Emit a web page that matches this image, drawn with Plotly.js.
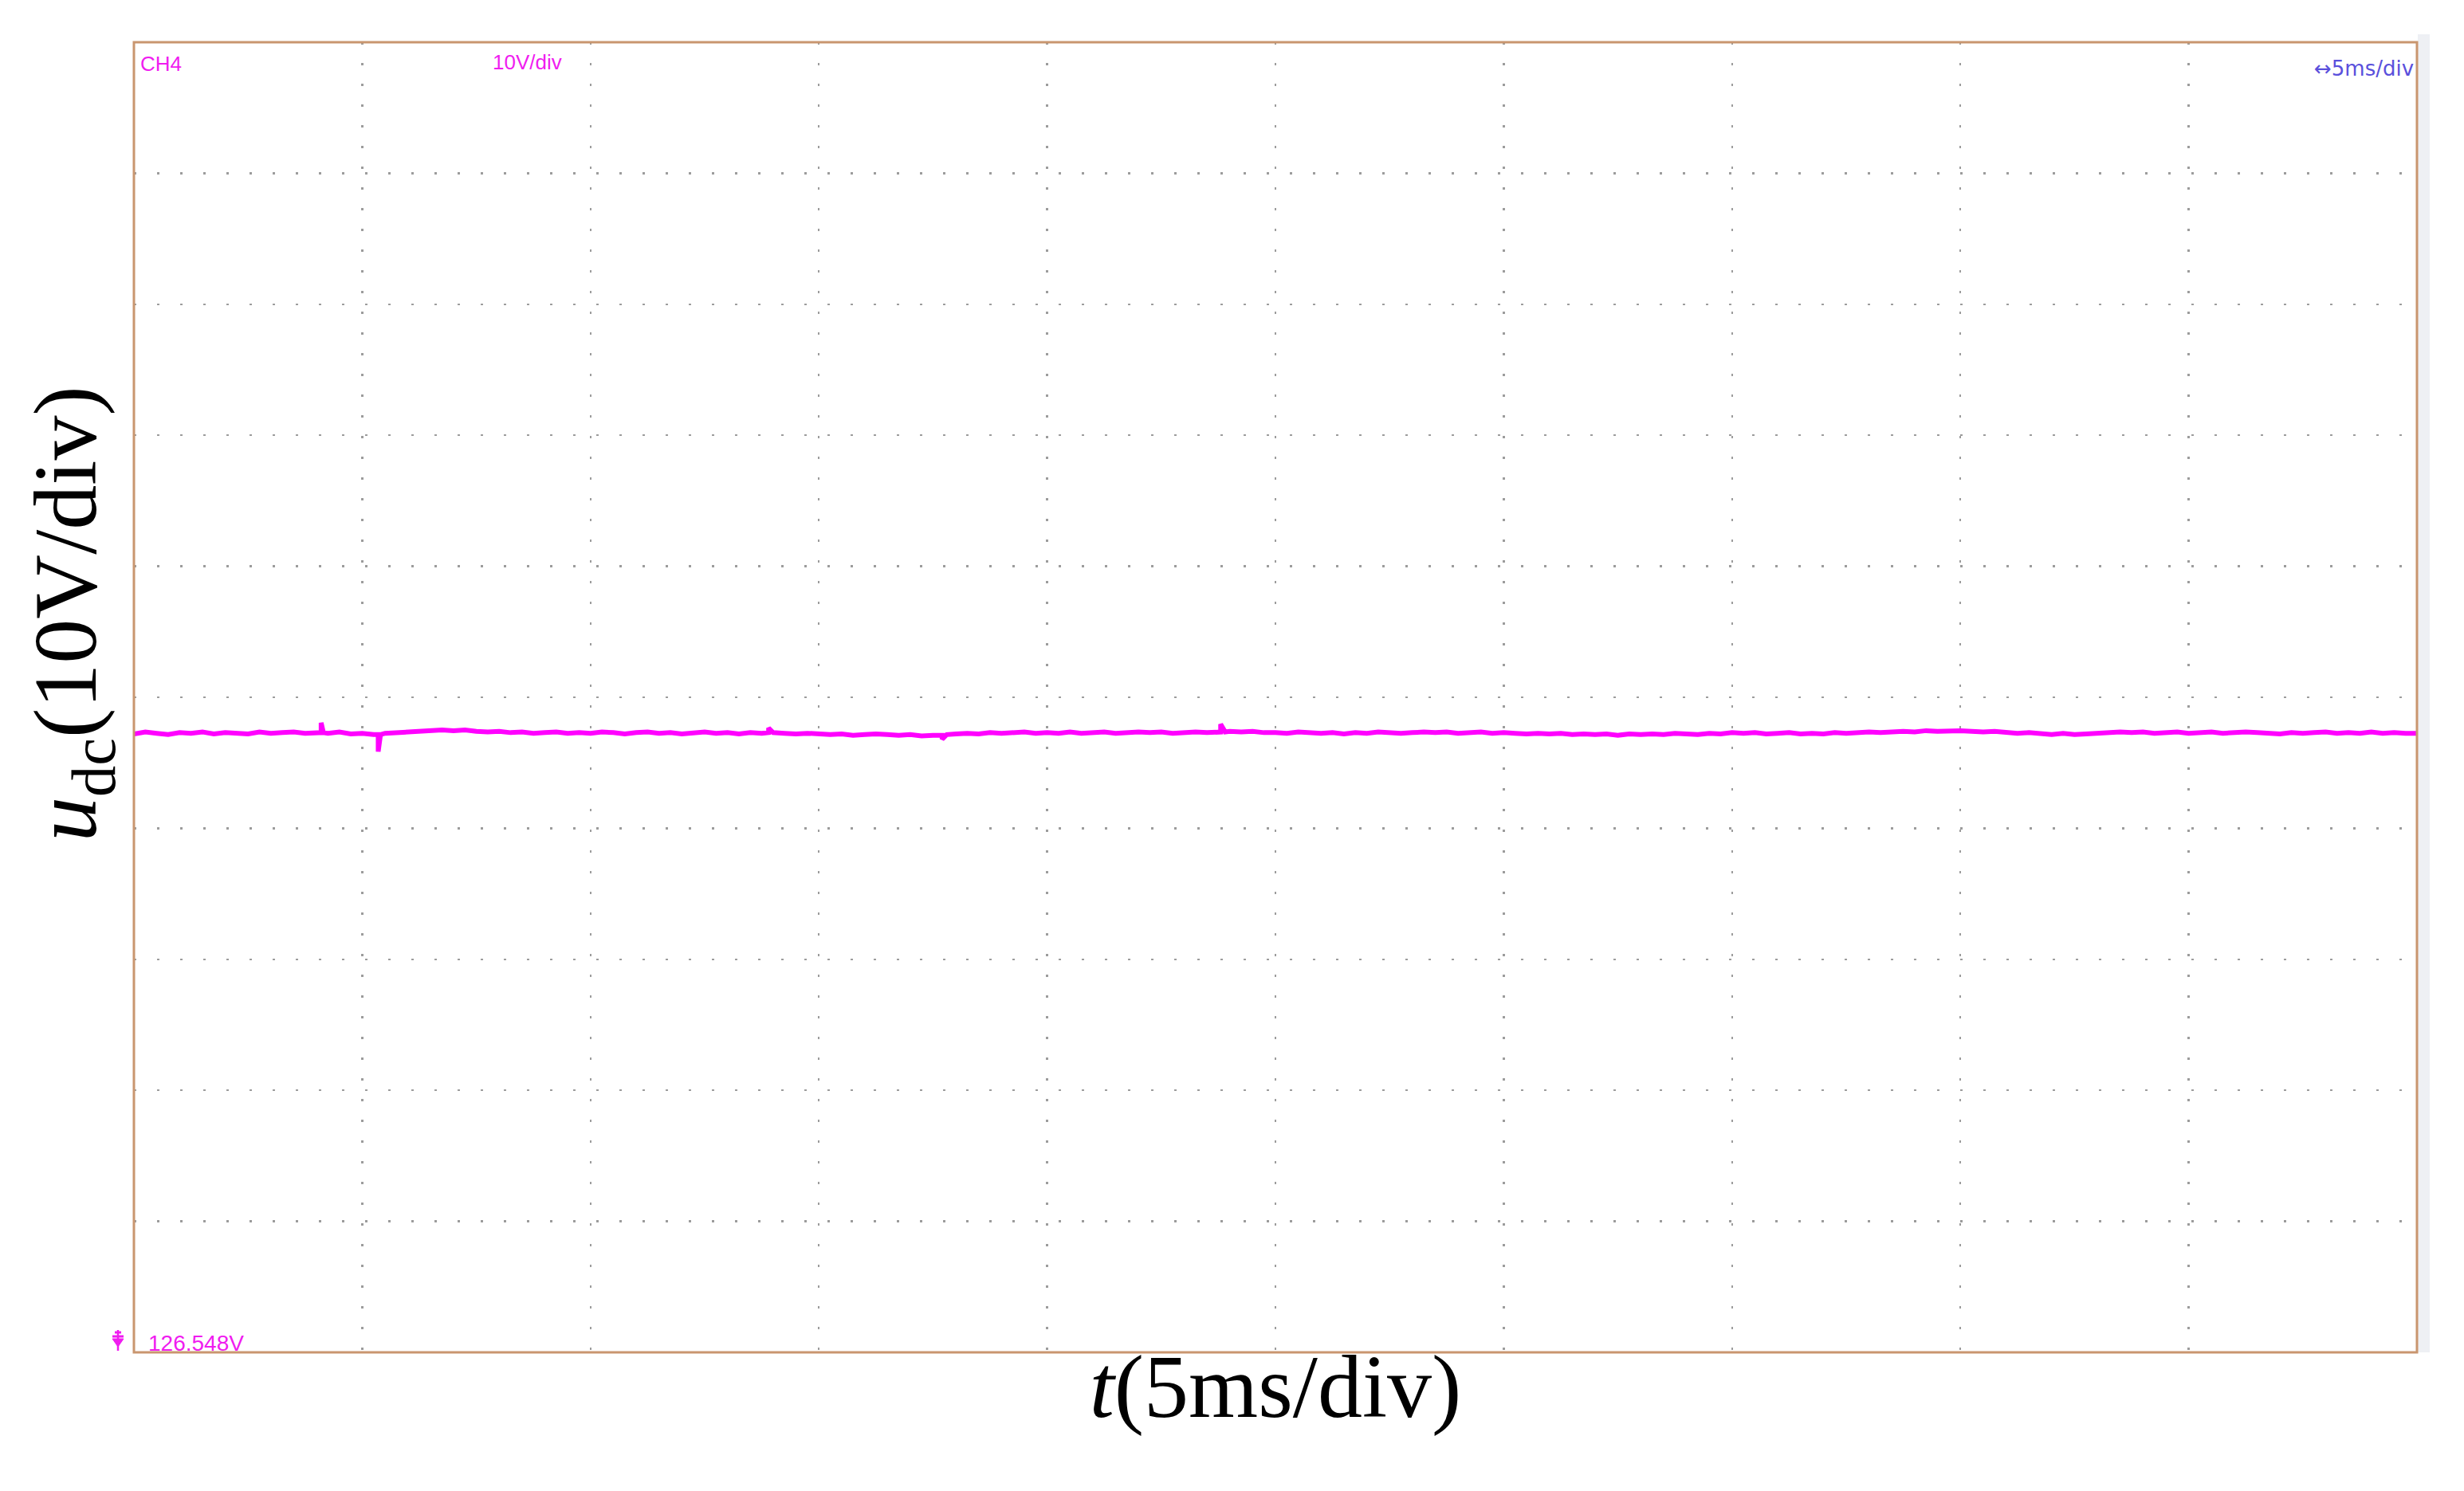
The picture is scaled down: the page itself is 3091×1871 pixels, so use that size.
<!DOCTYPE html>
<html><head><meta charset="utf-8">
<script src="https://cdn.plot.ly/plotly-3.0.1.min.js"></script>
<style>html,body{margin:0;padding:0;background:#fff;overflow:hidden}</style>
</head><body>
<div id="chart" style="width:3091px;height:1871px"></div>
<script>
// ---- data ----
const time_ms = [
 0,0.25,0.5,0.75,1,1.25,1.5,1.75,2,2.25,2.5,2.75,3,3.25,3.5,3.75,4,4.1,4.1,4.15,4.25,4.5,4.75,
 5,5.25,5.35,5.35,5.4,5.5,5.75,6,6.25,6.5,6.75,7,7.25,7.5,7.75,8,8.25,8.5,8.75,9,9.25,9.5,9.75,
 10,10.25,10.5,10.75,11,11.25,11.5,11.75,12,12.25,12.5,12.75,13,13.25,13.5,13.75,13.9,13.9,14,14.25,14.5,14.75,
 15,15.25,15.5,15.75,16,16.25,16.5,16.75,17,17.25,17.5,17.7,17.7,17.8,18,18.25,18.5,18.75,19,19.25,19.5,19.75,
 20,20.25,20.5,20.75,21,21.25,21.5,21.75,22,22.25,22.5,22.75,23,23.25,23.5,23.8,23.8,23.9,24,24.25,24.5,24.75,
 25,25.25,25.5,25.75,26,26.25,26.5,26.75,27,27.25,27.5,27.75,28,28.25,28.5,28.75,29,29.25,29.5,29.75,
 30,30.25,30.5,30.75,31,31.25,31.5,31.75,32,32.25,32.5,32.75,33,33.25,33.5,33.75,34,34.25,34.5,34.75,
 35,35.25,35.5,35.75,36,36.25,36.5,36.75,37,37.25,37.5,37.75,38,38.25,38.5,38.75,39,39.25,39.5,39.75,
 40,40.25,40.5,40.75,41,41.25,41.5,41.75,42,42.25,42.5,42.75,43,43.25,43.5,43.75,44,44.25,44.5,44.75,
 45,45.25,45.5,45.75,46,46.25,46.5,46.75,47,47.25,47.5,47.75,48,48.25,48.5,48.75,49,49.25,49.5,49.75,50];
const udc_V = [
 173.75,173.9,173.8,173.7,173.85,173.8,173.9,173.75,173.85,173.8,173.75,173.9,173.8,173.85,173.9,173.8,173.85,173.85,174.6,173.85,173.8,173.9,173.75,
 173.8,173.7,173.7,172.4,173.7,173.8,173.85,173.9,173.95,174.0,174.05,174.0,174.05,173.95,173.9,173.95,173.85,173.9,173.8,173.85,173.9,173.8,173.85,
 173.8,173.9,173.85,173.75,173.85,173.9,173.8,173.85,173.75,173.8,173.9,173.8,173.85,173.75,173.85,173.8,173.85,174.2,173.85,173.8,173.75,173.8,
 173.75,173.7,173.75,173.65,173.7,173.75,173.7,173.65,173.7,173.6,173.65,173.65,173.35,173.7,173.75,173.8,173.75,173.85,173.8,173.85,173.9,173.8,
 173.85,173.8,173.9,173.8,173.85,173.9,173.8,173.85,173.9,173.85,173.9,173.8,173.85,173.9,173.85,173.9,174.5,173.9,173.95,173.9,173.95,173.85,
 173.85,173.8,173.9,173.85,173.8,173.85,173.75,173.85,173.8,173.9,173.85,173.8,173.85,173.9,173.85,173.9,173.8,173.85,173.9,173.8,
 173.85,173.8,173.75,173.8,173.75,173.8,173.7,173.75,173.7,173.75,173.65,173.75,173.7,173.75,173.7,173.8,173.75,173.7,173.8,173.75,
 173.85,173.8,173.85,173.75,173.8,173.85,173.75,173.8,173.75,173.85,173.8,173.85,173.9,173.85,173.9,173.95,173.9,174.0,173.95,174.0,
 174.0,173.95,173.9,173.95,173.85,173.8,173.85,173.75,173.7,173.8,173.7,173.75,173.8,173.85,173.9,173.85,173.9,173.8,173.85,173.9,
 173.8,173.85,173.9,173.8,173.85,173.9,173.85,173.8,173.75,173.85,173.8,173.85,173.9,173.8,173.85,173.8,173.9,173.8,173.85,173.8,173.8];
const timePerDiv_ms = 5;
const voltPerDiv_V = 10;
const offset_V = 126.548;
const nDiv = 10;
const labels = {ch: "CH4", vdiv: "10V/div", tdiv: "\u21945ms/div", offset: "126.548V",
  xTitle: "<i>t</i>(5ms/div)", yTitle: "<i>u</i><sub>dc</sub>(10V/div)"};

// ---- layout helpers (pixel -> paper) ----
const W = 3091, H = 1871, L = 168, R = 3032, T = 53, B = 1697;
const pw = R - L, ph = B - T;
const px = x => (x - L) / pw;
const py = y => (B - y) / ph;

const magenta = "#f01cf0";
const trace = {
  x: time_ms, y: udc_V, type: "scatter", mode: "lines",
  line: {color: "#ff00ff", width: 6}, hoverinfo: "skip"
};

const gridCol = "#9c9c9c";
const layout = {
  width: W, height: H,
  margin: {l: L, r: W - R, t: T, b: H - B, pad: 0},
  paper_bgcolor: "#ffffff", plot_bgcolor: "#ffffff",
  showlegend: false,
  xaxis: {
    range: [0, timePerDiv_ms * nDiv], tick0: 0, dtick: timePerDiv_ms,
    showgrid: true, gridcolor: gridCol, gridwidth: 2.5, griddash: "3px,23px",
    zeroline: false, showticklabels: false, ticks: "", showline: false, fixedrange: true,
    title: {text: labels.xTitle, font: {family: "Liberation Serif", size: 112, color: "#000"}, standoff: 2}
  },
  yaxis: {
    range: [offset_V, offset_V + voltPerDiv_V * nDiv], tick0: offset_V, dtick: voltPerDiv_V,
    showgrid: true, gridcolor: gridCol, gridwidth: 2.5, griddash: "3px,26px",
    zeroline: false, showticklabels: false, ticks: "", showline: false, fixedrange: true
  },
  shapes: [
    {type: "rect", xref: "paper", yref: "paper", x0: px(R + 1), x1: px(3048), y0: py(43), y1: py(B),
     fillcolor: "#eef0f4", line: {width: 0}, layer: "below"},
    {type: "rect", xref: "paper", yref: "paper", x0: 0, x1: 1, y0: 0, y1: 1,
     line: {color: "#c9966f", width: 3}, layer: "above"},
    // ground/offset marker at left edge
    {type: "line", xref: "paper", yref: "paper", x0: px(148), x1: px(148), y0: py(1669), y1: py(1695),
     line: {color: magenta, width: 2.5}},
    {type: "line", xref: "paper", yref: "paper", x0: px(144), x1: px(152), y0: py(1672), y1: py(1672),
     line: {color: magenta, width: 3}},
    {type: "line", xref: "paper", yref: "paper", x0: px(141), x1: px(155), y0: py(1677), y1: py(1677),
     line: {color: magenta, width: 3}},
    {type: "path", xref: "paper", yref: "paper",
     path: `M ${px(141)} ${py(1680)} L ${px(155)} ${py(1680)} L ${px(148)} ${py(1690)} Z`,
     fillcolor: magenta, line: {color: magenta, width: 1}}
  ],
  annotations: [
    {text: labels.ch, xref: "paper", yref: "paper", x: px(174), y: py(80), xanchor: "left", yanchor: "middle",
     showarrow: false, font: {family: "Liberation Sans", size: 26, color: magenta}},
    {text: labels.vdiv, xref: "paper", yref: "paper", x: px(616), y: py(78), xanchor: "left", yanchor: "middle",
     showarrow: false, font: {family: "Liberation Sans", size: 26, color: magenta}},
    {text: labels.tdiv, xref: "paper", yref: "paper", x: px(3030), y: py(86), xanchor: "right", yanchor: "middle",
     showarrow: false, font: {family: "DejaVu Sans", size: 26, color: "#5a50dc"}},
    {text: labels.offset, xref: "paper", yref: "paper", x: px(184), y: py(1685), xanchor: "left", yanchor: "middle",
     showarrow: false, font: {family: "Liberation Sans", size: 28, color: magenta}},
    {text: labels.yTitle, xref: "paper", yref: "paper", x: px(90), y: py(770), xanchor: "center", yanchor: "middle",
     textangle: -90, showarrow: false, font: {family: "Liberation Serif", size: 112, color: "#000"}}
  ]
};

Plotly.newPlot("chart", [trace], layout, {staticPlot: true, displayModeBar: false});
</script>
</body></html>
